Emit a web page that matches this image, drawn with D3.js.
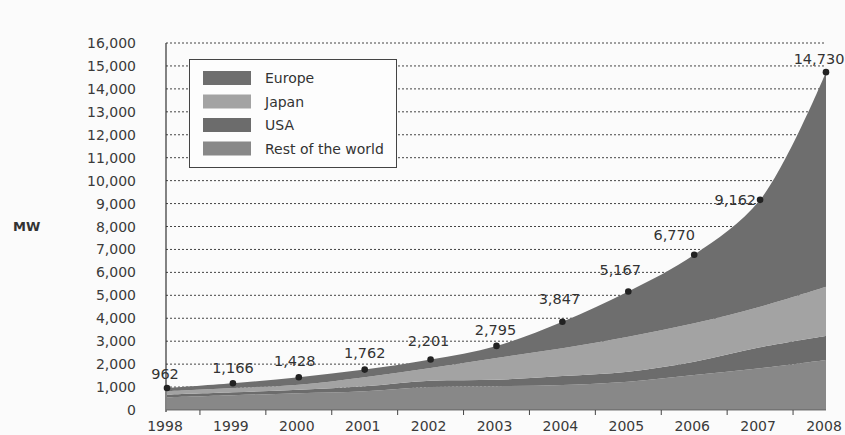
<!DOCTYPE html>
<html lang="en">
<head>
<meta charset="UTF-8">
<title>Global cumulative PV capacity 1998-2008</title>
<script src="https://d3js.org/d3.v7.min.js"></script>
<style>
  body { margin: 0; background: #fbfbfb; }
  svg { display: block; font-family: "DejaVu Sans", Verdana, sans-serif; }
  .tick-label { font-size: 14px; fill: #3a3a3a; }
  .point-label { font-size: 14.5px; fill: #333; }
  .legend-label { font-size: 14px; fill: #333; }
</style>
</head>
<body>
<svg id="chart" width="845" height="435"></svg>
<script>
  // years on the x axis
  const years = [1998, 1999, 2000, 2001, 2002, 2003, 2004, 2005, 2006, 2007, 2008];
  // MW per region (stacked bottom to top)
  const restOfWorld = [550, 640, 730, 820, 1000, 1040, 1090, 1234, 1525, 1817, 2179];
  const usa = [120, 130, 150, 210, 270, 280, 390, 436, 580, 915, 1045];
  const japan = [150, 190, 220, 400, 560, 950, 1210, 1525, 1672, 1768, 2149];
  const europe = [142, 206, 328, 332, 371, 525, 1157, 1972, 2993, 4662, 9357];
  const totals = [962, 1166, 1428, 1762, 2201, 2795, 3847, 5167, 6770, 9162, 14730];
  const yTicks = d3.range(0, 16001, 1000);

  const legendNames = ["Europe", "Japan", "USA", "Rest of the world"];
  const colors = { "Europe": "#6e6e6e", "Japan": "#a3a3a3", "USA": "#6c6c6c", "Rest of the world": "#888888" };

  const svg = d3.select("#chart");
  const x = d3.scaleLinear().domain([1998, 2008]).range([167, 826]);
  const y = d3.scaleLinear().domain([0, 16000]).range([410, 43]);

  const rows = years.map((yr, i) => ({
    year: yr,
    "Rest of the world": restOfWorld[i],
    "USA": usa[i],
    "Japan": japan[i],
    "Europe": europe[i]
  }));
  const stack = d3.stack().keys(["Rest of the world", "USA", "Japan", "Europe"]);
  const series = stack(rows);

  // grid lines
  svg.append("g").selectAll("line")
    .data(yTicks.filter(d => d > 0))
    .join("line")
    .attr("x1", 166).attr("x2", 826)
    .attr("y1", d => y(d)).attr("y2", d => y(d))
    .attr("stroke", "#444").attr("stroke-width", 1)
    .attr("stroke-dasharray", "2,2");

  // areas
  const area = d3.area()
    .x(d => x(d.data.year))
    .y0(d => y(d[0]))
    .y1(d => y(d[1]))
    .curve(d3.curveCatmullRom.alpha(0.5));
  svg.append("g").selectAll("path")
    .data(series)
    .join("path")
    .attr("d", area)
    .attr("fill", d => colors[d.key]);

  // y axis line and labels
  svg.append("line").attr("x1", 166).attr("x2", 166).attr("y1", 43).attr("y2", 412)
    .attr("stroke", "#333").attr("stroke-width", 1.2);
  svg.append("g").selectAll("text")
    .data(yTicks)
    .join("text")
    .attr("class", "tick-label")
    .attr("x", 136).attr("y", d => y(d) + 5)
    .attr("text-anchor", "end")
    .text(d => d3.format(",")(d));
  svg.append("text").attr("x", 13).attr("y", 231)
    .style("font-size", "13px").style("font-weight", "bold").attr("fill", "#333")
    .text("MW");

  // x axis: ticks between years, labels at years
  svg.append("line").attr("x1", 166).attr("x2", 826).attr("y1", 410).attr("y2", 410)
    .attr("stroke", "#555").attr("stroke-width", 0.8);
  svg.append("g").selectAll("line")
    .data(years.slice(0, -1))
    .join("line")
    .attr("x1", d => x(d + 0.5)).attr("x2", d => x(d + 0.5))
    .attr("y1", 410).attr("y2", 415)
    .attr("stroke", "#444");
  svg.append("g").selectAll("text")
    .data(years)
    .join("text")
    .attr("class", "tick-label")
    .attr("x", d => x(d) - 2).attr("y", 431)
    .attr("text-anchor", "middle")
    .text(d => d);

  // total points and labels
  const labelShift = [[-2, -9], [0, -10], [-4, -11], [0, -12], [-2, -14], [-1, -11], [-3, -18], [-8, -16], [-20, -15], [-4, 5], [-7, -8]];
  svg.append("g").selectAll("circle")
    .data(totals)
    .join("circle")
    .attr("cx", (d, i) => x(years[i]))
    .attr("cy", d => y(d))
    .attr("r", 3.3)
    .attr("fill", "#222");
  svg.append("g").selectAll("text")
    .data(totals)
    .join("text")
    .attr("class", "point-label")
    .attr("x", (d, i) => x(years[i]) + labelShift[i][0])
    .attr("y", (d, i) => y(d) + labelShift[i][1])
    .attr("text-anchor", (d, i) => i === 9 ? "end" : "middle")
    .text(d => d3.format(",")(d));

  // legend
  const lg = svg.append("g");
  lg.append("rect").attr("x", 189.5).attr("y", 59.5).attr("width", 207).attr("height", 108)
    .attr("fill", "#fdfdfd").attr("stroke", "#444").attr("stroke-width", 1);
  const items = lg.selectAll("g.item")
    .data(legendNames)
    .join("g")
    .attr("class", "item")
    .attr("transform", (d, i) => `translate(203, ${71 + i * 23.5})`);
  items.append("rect").attr("width", 48).attr("height", 14).attr("fill", d => colors[d]);
  items.append("text").attr("class", "legend-label").attr("x", 62).attr("y", 12).text(d => d);
</script>
</body>
</html>
